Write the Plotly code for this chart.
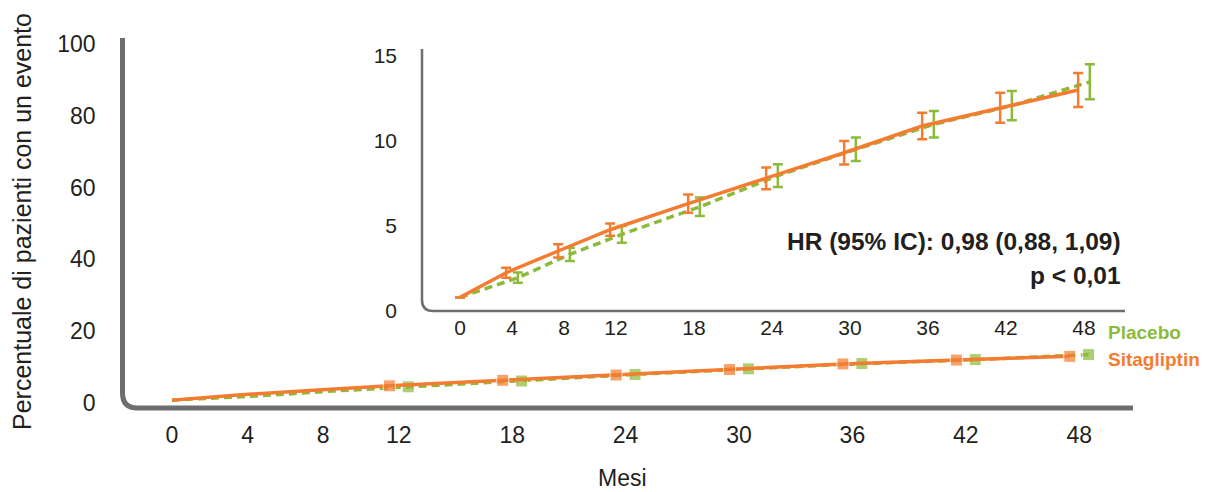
import plotly.graph_objects as go

# ---------------- data ----------------
months = [0, 4, 8, 12, 18, 24, 30, 36, 42, 48]
tick_months = [0, 4, 8, 12, 18, 24, 30, 36, 42, 48]
sitagliptin = [0.8, 2.25, 3.53, 4.78, 6.32, 7.80, 9.31, 10.88, 11.96, 13.00]
placebo = [0.8, 1.96, 3.33, 4.51, 6.13, 7.96, 9.51, 10.98, 12.08, 13.48]
sitagliptin_ci = [None, 0.30, 0.39, 0.36, 0.54, 0.64, 0.69, 0.78, 0.88, 1.00]
placebo_ci = [None, 0.30, 0.39, 0.49, 0.54, 0.67, 0.69, 0.78, 0.86, 1.03]
main_y_ticks = [0, 20, 40, 60, 80, 100]
inset_y_ticks = [0, 5, 10, 15]
series_names = ["Placebo", "Sitagliptin"]
hr_text = ["HR (95% IC): 0,98 (0,88, 1,09)", "p < 0,01"]
x_title = "Mesi"
y_title = "Percentuale di pazienti con un evento"

# ---------------- style ----------------
# the page body has an 8px default margin, so the figure is drawn 8px in
OFF = 8
W, H = 1208 - OFF, 492 - OFF
ORANGE = "#f47c30"
GREEN = "#8cba3a"
AXIS = "#6d6e70"
TEXT = "#231f20"
FONT = "Liberation Sans, Arial, sans-serif"


def px(x):
    return (x - OFF) / W


def py(y):
    return 1 - (y - OFF) / H


def dodge(vals, d):
    return [m + d if m > 0 else m for m in vals]


fig = go.Figure()

# ---- main chart ----
main_marker = [12 if m >= 12 else 0 for m in months]
fig.add_trace(go.Scatter(
    x=dodge(months, 0.5), y=placebo, name=series_names[0], mode="lines+markers",
    line=dict(color=GREEN, width=3.5, dash="8px,5px"),
    marker=dict(symbol="square", size=main_marker, color=GREEN),
    xaxis="x", yaxis="y", showlegend=False))
fig.add_trace(go.Scatter(
    x=dodge(months, -0.5), y=sitagliptin, name=series_names[1], mode="lines+markers",
    line=dict(color=ORANGE, width=3.5),
    marker=dict(symbol="square", size=main_marker, color=ORANGE),
    xaxis="x", yaxis="y", showlegend=False))

# ---- inset chart ----
fig.add_trace(go.Scatter(
    x=dodge(months, 0.45), y=placebo, name=series_names[0], mode="lines",
    line=dict(color=GREEN, width=3.5, dash="8px,5px"),
    error_y=dict(type="data", array=placebo_ci, color=GREEN, thickness=2.5, width=5),
    xaxis="x2", yaxis="y2", showlegend=False))
fig.add_trace(go.Scatter(
    x=dodge(months, -0.45), y=sitagliptin, name=series_names[1], mode="lines",
    line=dict(color=ORANGE, width=3.5),
    error_y=dict(type="data", array=sitagliptin_ci, color=ORANGE, thickness=2.5, width=5),
    xaxis="x2", yaxis="y2", showlegend=False))

# axis geometry (reference pixels)
M_L, M_T, M_B, M_R = 122.5, 38, 408, 1133
I_L, I_T, I_B, I_R = 422, 49, 311, 1125

tickfont_main = dict(family=FONT, size=23, color=TEXT)
tickfont_inset = dict(family=FONT, size=21, color=TEXT)

common = dict(ticks="", ticklen=0, showgrid=False, zeroline=False, showline=False,
              automargin=False)

fig.update_layout(
    width=W, height=H,
    margin=dict(l=0, r=0, t=0, b=0, autoexpand=False),
    paper_bgcolor="white", plot_bgcolor="rgba(0,0,0,0)",
    showlegend=False,
    xaxis=dict(domain=[px(M_L), px(M_R)], range=[(M_L - 172) / 18.9, (M_R - 172) / 18.9],
               tickvals=tick_months, tickfont=tickfont_main, ticklabelstandoff=11, **common),
    yaxis=dict(domain=[py(M_B), py(M_T)], range=[(403 - M_B) / 3.59, (403 - M_T) / 3.59],
               tickvals=main_y_ticks, tickfont=tickfont_main, ticklabelstandoff=26, **common),
    xaxis2=dict(domain=[px(I_L), px(I_R)], range=[(I_L - 460) / 13.0, (I_R - 460) / 13.0],
                anchor="y2", tickvals=tick_months, tickfont=tickfont_inset,
                ticklabelstandoff=2, **common),
    yaxis2=dict(domain=[py(I_B), py(I_T)], range=[0, (I_B - I_T) / 17.0],
                anchor="x2", tickvals=inset_y_ticks, tickfont=tickfont_inset,
                ticklabelstandoff=24, **common),
)

# rounded L-shaped axis lines
def l_path(l, t, b, r, rad):
    return (f"M {px(l)},{py(t)} L {px(l)},{py(b - rad)} "
            f"Q {px(l)},{py(b)} {px(l + rad)},{py(b)} L {px(r)},{py(b)}")

fig.add_shape(type="path", xref="paper", yref="paper", layer="below",
              path=l_path(M_L, M_T, M_B, M_R, 15), line=dict(color=AXIS, width=5))
fig.add_shape(type="path", xref="paper", yref="paper", layer="below",
              path=l_path(I_L, I_T, I_B, I_R, 11), line=dict(color=AXIS, width=2.5))

# titles
fig.add_annotation(x=px(22), y=py(222), xref="paper", yref="paper", text=y_title,
                   textangle=-90, showarrow=False, xanchor="center", yanchor="middle",
                   font=dict(family=FONT, size=25, color=TEXT))
fig.add_annotation(x=px(622), y=py(478), xref="paper", yref="paper", text=x_title,
                   showarrow=False, xanchor="center", yanchor="middle",
                   font=dict(family=FONT, size=23, color=TEXT))

# HR text
for i, t in enumerate(hr_text):
    fig.add_annotation(x=px(1123), y=py(241 + 34 * i), xref="paper", yref="paper", text=t,
                       showarrow=False, xanchor="right", yanchor="middle",
                       font=dict(family=FONT, size=24.5, color=TEXT, weight="bold"))

# legend labels
for i, (name, col) in enumerate(zip(series_names, [GREEN, ORANGE])):
    fig.add_annotation(x=px(1106), y=py(332 + 27 * i), xref="paper", yref="paper", text=name,
                       showarrow=False, xanchor="left", yanchor="middle",
                       font=dict(family=FONT, size=19, color=col, weight="bold"))

fig.write_html("out.html")
